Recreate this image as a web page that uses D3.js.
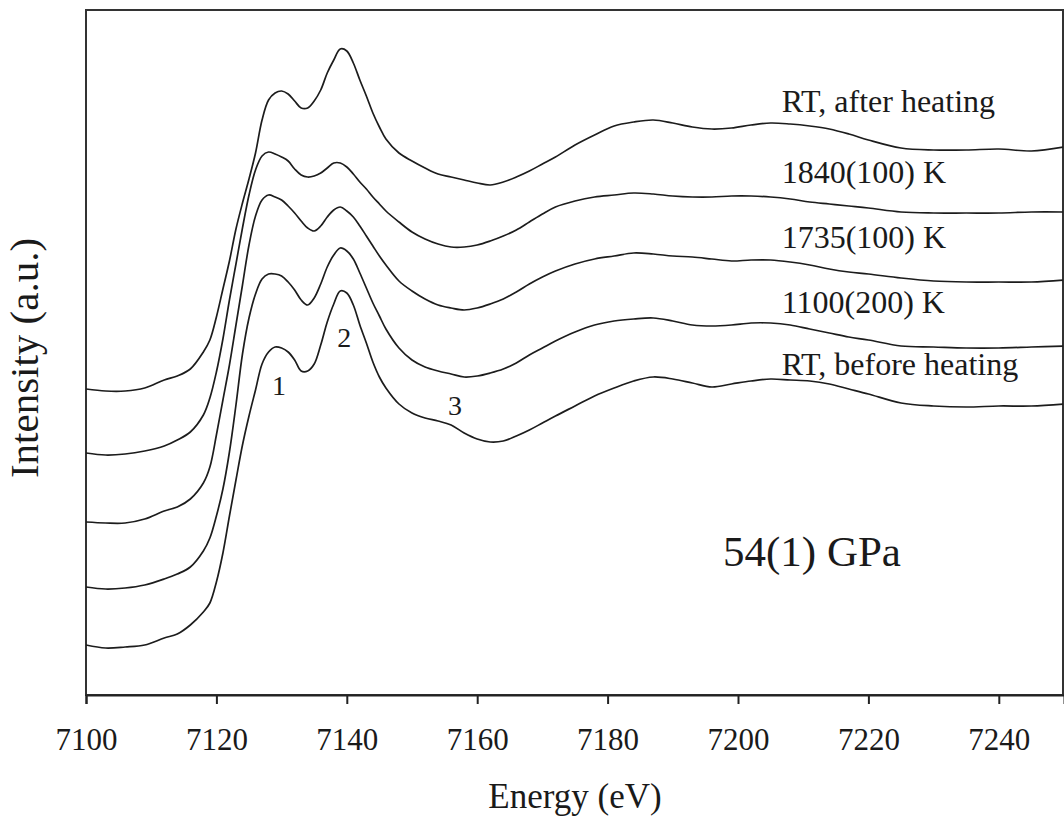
<!DOCTYPE html>
<html>
<head>
<meta charset="utf-8">
<script src="https://cdn.jsdelivr.net/npm/d3@7"></script>
<style>
  html, body { margin: 0; padding: 0; background: #ffffff; }
  svg { display: block; }
  text { font-family: "Liberation Serif", "Times New Roman", serif; fill: #1a1a1a; }
</style>
</head>
<body>
<svg id="chart" width="1064" height="821"></svg>
<script>
// ---- Data ----
const energy = [7100, 7103, 7106, 7109, 7112, 7114, 7116, 7118,
  7119, 7120, 7121, 7122, 7123, 7124, 7125, 7126, 7127, 7128,
  7129, 7130, 7131, 7132, 7133, 7134, 7135, 7136, 7137, 7138,
  7139, 7140, 7141, 7142, 7143, 7144, 7145, 7146,
  7148, 7150, 7152, 7154, 7156, 7158, 7160, 7162, 7164, 7166, 7168, 7170, 7172,
  7175, 7178, 7181, 7184, 7187, 7190, 7193, 7196, 7199, 7202, 7205, 7208, 7211, 7214, 7217, 7220,
  7225, 7230, 7235, 7240, 7245, 7250];

const rtAfter = [3.06, 3.04, 3.04, 3.07, 3.15, 3.19, 3.26, 3.43,
  3.55, 3.78, 4.06, 4.34, 4.66, 4.92, 5.16, 5.42, 5.75, 5.95,
  6.02, 6.04, 6.01, 5.94, 5.87, 5.87, 5.94, 6.05, 6.22, 6.35,
  6.46, 6.44, 6.32, 6.15, 5.99, 5.82, 5.68, 5.56,
  5.42, 5.34, 5.27, 5.21, 5.18, 5.15, 5.12, 5.10, 5.13, 5.18, 5.24, 5.31, 5.38,
  5.50, 5.60, 5.69, 5.73, 5.75, 5.72, 5.68, 5.66, 5.67, 5.70, 5.72, 5.71, 5.69, 5.66, 5.61, 5.55,
  5.47, 5.45, 5.45, 5.46, 5.44, 5.48];

const k1840 = [2.42, 2.40, 2.41, 2.44, 2.49, 2.55, 2.63, 2.80,
  2.97, 3.23, 3.56, 3.95, 4.31, 4.67, 5.00, 5.25, 5.39, 5.43,
  5.41, 5.38, 5.34, 5.26, 5.20, 5.18, 5.19, 5.22, 5.27, 5.32,
  5.32, 5.28, 5.21, 5.13, 5.06, 4.98, 4.91, 4.84,
  4.73, 4.63, 4.56, 4.51, 4.48, 4.48, 4.50, 4.54, 4.59, 4.65, 4.73, 4.81, 4.88,
  4.94, 4.98, 5.00, 5.02, 5.01, 4.99, 4.98, 4.98, 4.99, 4.99, 4.98, 4.96, 4.93, 4.91, 4.89, 4.87,
  4.83, 4.82, 4.82, 4.82, 4.83, 4.83];

const k1735 = [1.73, 1.72, 1.72, 1.76, 1.84, 1.88, 1.96, 2.12,
  2.28, 2.60, 2.95, 3.30, 3.70, 4.10, 4.50, 4.79, 4.95, 5.00,
  4.98, 4.95, 4.89, 4.82, 4.74, 4.67, 4.64, 4.69, 4.78, 4.85,
  4.88, 4.84, 4.78, 4.69, 4.59, 4.49, 4.39, 4.30,
  4.14, 4.04, 3.96, 3.90, 3.87, 3.85, 3.87, 3.91, 3.96, 4.03, 4.11, 4.18, 4.24,
  4.31, 4.36, 4.39, 4.42, 4.41, 4.39, 4.38, 4.36, 4.34, 4.35, 4.35, 4.33, 4.30, 4.26, 4.23, 4.21,
  4.17, 4.14, 4.13, 4.13, 4.13, 4.15];

const k1100 = [1.08, 1.06, 1.07, 1.10, 1.16, 1.21, 1.28, 1.44,
  1.57, 1.79, 2.06, 2.43, 2.90, 3.41, 3.77, 4.01, 4.16, 4.21,
  4.21, 4.19, 4.13, 4.05, 3.95, 3.90, 3.97, 4.11, 4.28, 4.40,
  4.47, 4.44, 4.36, 4.22, 4.07, 3.92, 3.79, 3.66,
  3.47, 3.35, 3.28, 3.24, 3.21, 3.18, 3.19, 3.22, 3.26, 3.32, 3.40, 3.47, 3.54,
  3.63, 3.70, 3.74, 3.76, 3.77, 3.74, 3.70, 3.69, 3.70, 3.72, 3.72, 3.70, 3.66, 3.62, 3.58, 3.55,
  3.49, 3.48, 3.47, 3.47, 3.48, 3.49];

const rtBefore = [0.50, 0.47, 0.48, 0.50, 0.57, 0.61, 0.70, 0.83,
  0.92, 1.13, 1.42, 1.79, 2.15, 2.50, 2.79, 3.05, 3.31, 3.43,
  3.48, 3.47, 3.43, 3.35, 3.24, 3.24, 3.31, 3.50, 3.73, 3.91,
  4.04, 4.02, 3.90, 3.70, 3.52, 3.33, 3.18, 3.07,
  2.91, 2.82, 2.77, 2.74, 2.70, 2.62, 2.56, 2.53, 2.54, 2.59, 2.65, 2.72, 2.79,
  2.89, 2.99, 3.07, 3.14, 3.18, 3.16, 3.12, 3.08, 3.11, 3.14, 3.16, 3.15, 3.14, 3.11, 3.06, 3.01,
  2.92, 2.89, 2.88, 2.89, 2.89, 2.91];

const seriesNames = ["RT, after heating", "1840(100) K", "1735(100) K", "1100(200) K", "RT, before heating"];
const seriesValues = [rtAfter, k1840, k1735, k1100, rtBefore];
// label anchor positions in data units (energy, intensity)
const labelEnergy = [7206.7, 7206.7, 7206.7, 7206.7, 7206.7];
const labelIntensity = [5.83, 5.12, 4.47, 3.82, 3.20];

const peakLabels = ["1", "2", "3"];
const peakEnergy = [7129.6, 7139.6, 7156.6];
const peakIntensity = [3.00, 3.48, 2.80];

const xTicks = [7100, 7120, 7140, 7160, 7180, 7200, 7220, 7240];
const xTitle = "Energy (eV)";
const yTitle = "Intensity (a.u.)";
const pressureLabel = "54(1) GPa";

// ---- Layout ----
const svg = d3.select("#chart");
const mLeft = 86, mRight = 1063, mTop = 10, mBottom = 695;

const x = d3.scaleLinear().domain([7100, 7250]).range([mLeft, 1064]);
const y = d3.scaleLinear().domain([0, 6.85]).range([mBottom, mTop]);

svg.append("defs").append("clipPath").attr("id", "plotclip")
  .append("rect").attr("x", mLeft).attr("y", mTop).attr("width", mRight - mLeft).attr("height", mBottom - mTop);

// frame
svg.append("rect")
  .attr("x", mLeft).attr("y", mTop)
  .attr("width", mRight - mLeft).attr("height", mBottom - mTop)
  .attr("fill", "none").attr("stroke", "#333").attr("stroke-width", 2);

// x axis
const xAxis = d3.axisBottom(x).tickValues(xTicks).tickSize(9).tickPadding(24).tickFormat(d3.format("d"));
const gx = svg.append("g").attr("transform", `translate(0,${mBottom})`).call(xAxis);
gx.select(".domain").attr("stroke", "#222").attr("stroke-width", 2);
gx.selectAll(".tick line").attr("stroke", "#222").attr("stroke-width", 2);
gx.selectAll(".tick text")
  .attr("font-family", '"Liberation Serif", "Times New Roman", serif')
  .attr("font-size", 31).attr("fill", "#1a1a1a");

// curves
const line = d3.line()
  .x((d, i) => x(energy[i]))
  .y(d => y(d))
  .curve(d3.curveCatmullRom.alpha(0.5));

const gCurves = svg.append("g").attr("clip-path", "url(#plotclip)");
seriesValues.forEach(vals => {
  gCurves.append("path")
    .datum(vals)
    .attr("d", line)
    .attr("fill", "none")
    .attr("stroke", "#1c1c1c")
    .attr("stroke-width", 1.7)
    .attr("stroke-linejoin", "round");
});

// series labels
seriesNames.forEach((name, i) => {
  svg.append("text")
    .attr("x", x(labelEnergy[i]))
    .attr("y", y(labelIntensity[i]))
    .attr("font-size", 32)
    .text(name);
});

// peak labels
peakLabels.forEach((t, i) => {
  svg.append("text")
    .attr("x", x(peakEnergy[i]))
    .attr("y", y(peakIntensity[i]))
    .attr("text-anchor", "middle")
    .attr("font-size", 28)
    .text(t);
});

// pressure label
svg.append("text")
  .attr("x", 723).attr("y", 566)
  .attr("font-size", 43)
  .text(pressureLabel);

// axis titles
svg.append("text")
  .attr("x", 575).attr("y", 808)
  .attr("text-anchor", "middle")
  .attr("font-size", 35)
  .text(xTitle);

svg.append("text")
  .attr("transform", `translate(38,358) rotate(-90)`)
  .attr("text-anchor", "middle")
  .attr("font-size", 41)
  .text(yTitle);
</script>
</body>
</html>
